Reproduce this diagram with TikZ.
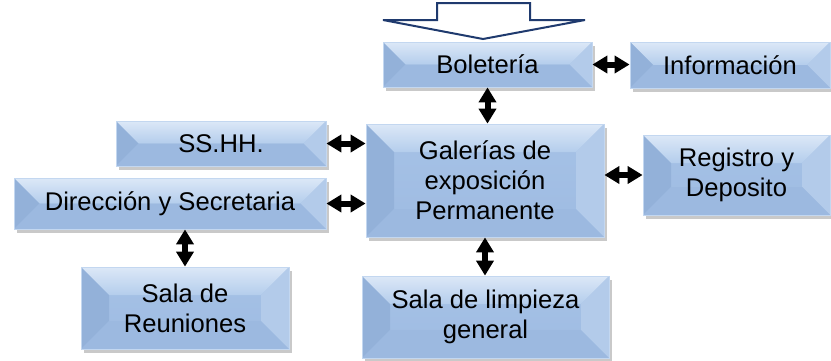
\documentclass[tikz,border=0pt]{standalone}
\usepackage{fontspec}
\setmainfont{Liberation Sans}
\usetikzlibrary{calc,arrows.meta,shadows}

\definecolor{bvmid}{HTML}{A6C2E6}
\definecolor{bvmidlow}{HTML}{9EBBE2}
\definecolor{bvtop}{HTML}{DCE8F7}
\definecolor{bvtoplow}{HTML}{B4CDEC}
\definecolor{bvleft}{HTML}{93B1D9}
\definecolor{bvright}{HTML}{B3CBEA}
\definecolor{bvbot}{HTML}{9CB9E0}
\definecolor{bvedge}{HTML}{C3D7F0}
\definecolor{navy}{HTML}{1F3A6E}

% bevel faces of a box, #1 = inset
\newcommand{\bevelfaces}[1]{%
	\coordinate (nw) at (path picture bounding box.north west);
	\coordinate (ne) at (path picture bounding box.north east);
	\coordinate (sw) at (path picture bounding box.south west);
	\coordinate (se) at (path picture bounding box.south east);
	\coordinate (inw) at ($(nw)+(#1,-#1)$);
	\coordinate (ine) at ($(ne)+(-#1,-#1)$);
	\coordinate (isw) at ($(sw)+(#1,#1)$);
	\coordinate (ise) at ($(se)+(-#1,#1)$);
	\fill[top color=bvmid, bottom color=bvmidlow] (nw) rectangle (se);
	\fill[top color=bvtop, bottom color=bvtoplow] (nw) -- (ne) -- (ine) -- (inw) -- cycle;
	\fill[bvleft] (nw) -- (inw) -- (isw) -- (sw) -- cycle;
	\fill[bvright] (ne) -- (ine) -- (ise) -- (se) -- cycle;
	\fill[bvbot] (sw) -- (isw) -- (ise) -- (se) -- cycle;
}

\tikzset{
	bevbox/.style={draw=bvedge, line width=0.4pt, fill=bvmid, inner sep=0pt,
		align=center, font=\fontsize{12.8}{15}\selectfont,
		drop shadow={shadow xshift=1.5pt, shadow yshift=-2pt, opacity=0.3, fill=black!70},
		path picture={\bevelfaces{#1}}},
	bevbox/.default=14pt,
	link/.style={line width=3pt, {Triangle[length=7.5pt,width=8.5pt]}-{Triangle[length=7.5pt,width=8.5pt]}}
}

\begin{document}
\begin{tikzpicture}[x=0.5pt, y=-0.5pt]
	\useasboundingbox (0,0) rectangle (831,360);
	% entrance arrow
	\draw[navy, line width=1pt, fill=white, line join=miter]
		(437,3) -- (530,3) -- (530,20) -- (585,20) -- (483,39) -- (383,20) -- (437,20) -- cycle;
	% boxes
	\node[bevbox=11.25pt, minimum width=104.5pt, minimum height=22.5pt] (bol) at (487.5,64.5) {Boletería};
	\node[bevbox=11.5pt, minimum width=100pt, minimum height=23pt] (info) at (730,65) {Información};
	\node[bevbox, minimum width=119pt, minimum height=56.5pt] (gal) at (485,180.5) {Galerías de\\exposición\\Permanente};
	\node[bevbox=11.25pt, minimum width=105pt, minimum height=22.5pt] (ss) at (221,143.5) {SS.HH.};
	\node[bevbox=12.75pt, minimum width=156pt, minimum height=25.5pt] (dir) at (170,203.5) {Dirección y Secretaria};
	\node[bevbox, minimum width=104pt, minimum height=41pt] (reu) at (185,308) {Sala de\\Reuniones};
	\node[bevbox, minimum width=93.5pt, minimum height=40pt] (reg) at (736.5,175) {Registro y\\Deposito};
	\node[bevbox, minimum width=123.5pt, minimum height=41pt] (lim) at (485.5,317) {Sala de limpieza\\general};
	% links
	\draw[link] (bol.east) -- (bol.east -| info.west);
	\draw[link] (bol.south) -- (bol.south |- gal.north);
	\draw[link] (ss.east) -- (ss.east -| gal.west);
	\draw[link] (dir.east) -- (dir.east -| gal.west);
	\draw[link] (reg.west -| gal.east) -- (reg.west);
	\draw[link] (gal.south) -- (gal.south |- lim.north);
	\draw[link] (dir.south -| reu.north) -- (reu.north);
\end{tikzpicture}
\end{document}
